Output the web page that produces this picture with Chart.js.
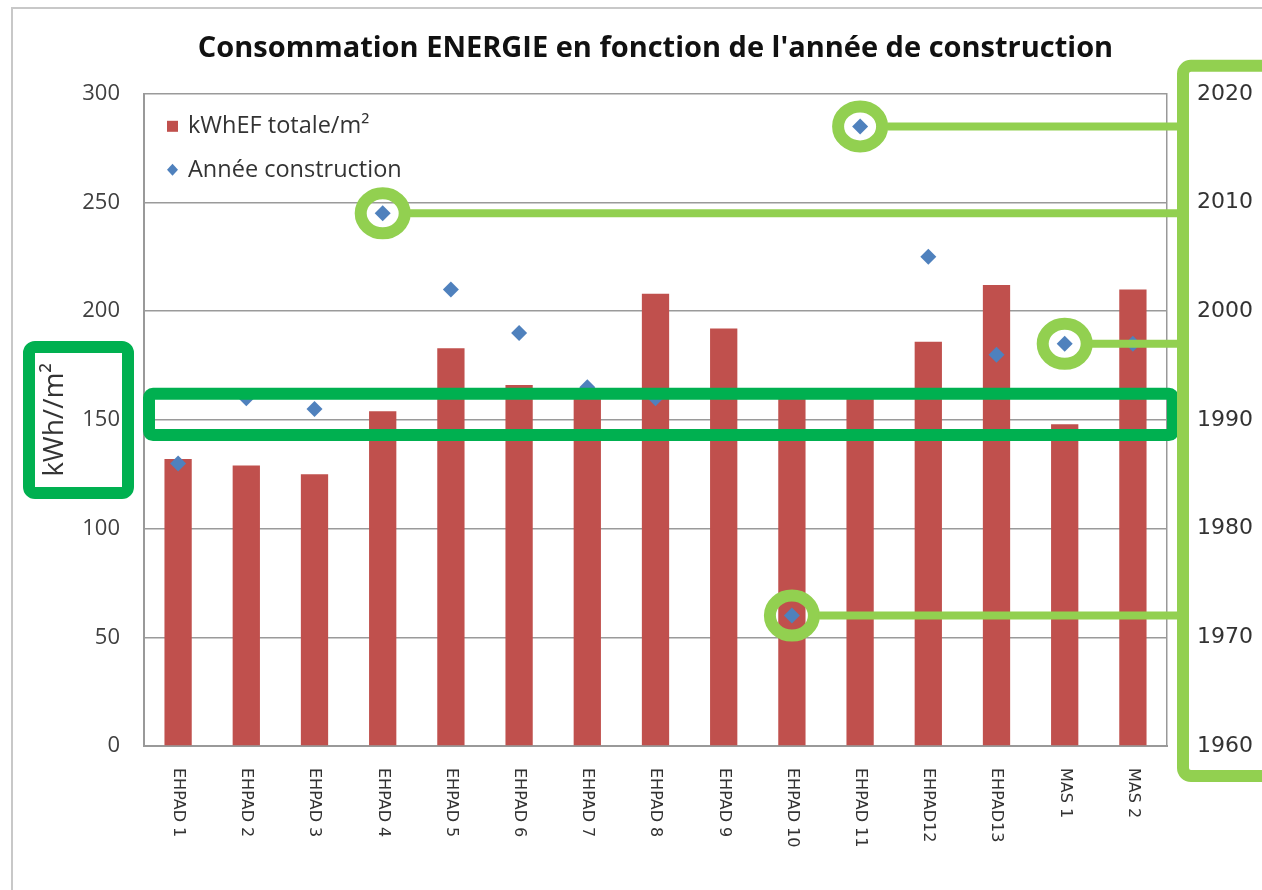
<!DOCTYPE html>
<html>
<head>
<meta charset="utf-8">
<script src="https://cdn.jsdelivr.net/npm/chart.js@4"></script>
<style>
  body { margin: 0; background: #fff; }
</style>
</head>
<body>
<canvas id="chart" width="1262" height="890"></canvas>
<script>
// Categories (buildings)
const categories = [
  "EHPAD 1", "EHPAD 2", "EHPAD 3", "EHPAD 4", "EHPAD 5", "EHPAD 6", "EHPAD 7",
  "EHPAD 8", "EHPAD 9", "EHPAD 10", "EHPAD 11", "EHPAD12", "EHPAD13", "MAS 1", "MAS 2",
];
const seriesNames = ["kWhEF totale/m²", "Année construction"];

// Energy consumption, kWh/m² (left axis)
const consumption = [132, 129, 125, 154, 183, 166, 161, 208, 192, 161, 161, 186, 212, 148, 210];

// Year of construction (right axis), EHPAD 9 has no visible point
const buildYears = [1986, 1992, 1991, 2009, 2002, 1998, 1993, 1992, null, 1972, 2017, 2005, 1996, 1997, 1997];

// Points circled in green in the picture
const highlighted = [3, 9, 10, 13];
// Left-axis range framed by the horizontal green box
const boxRange = [143, 162];

const barColor = "#C0504D";
const pointColor = "#4F81BD";

Chart.defaults.font.family = "Open Sans";

// Draws frame, legend, rotated category labels and the green markup
const annotations = {
  id: "annotations",
  beforeDraw(chart) {
    const { ctx } = chart;
    ctx.save();
    ctx.fillStyle = "#fff";
    ctx.fillRect(0, 0, chart.width, chart.height);
    ctx.strokeStyle = "#c8c8c8";
    ctx.lineWidth = 2;
    ctx.strokeRect(12, 8, chart.width + 40, chart.height + 40);
    ctx.restore();
  },
  afterDraw(chart) {
    const { ctx, chartArea: area, scales } = chart;
    const pts = chart.getDatasetMeta(1).data;
    ctx.save();

    // category labels, reading top to bottom
    ctx.font = "16px 'DejaVu Sans'";
    ctx.fillStyle = "#333";
    ctx.textAlign = "left";
    ctx.textBaseline = "middle";
    chart.data.labels.forEach((label, i) => {
      ctx.save();
      ctx.translate(scales.x.getPixelForTick(i), area.bottom + 22);
      ctx.rotate(Math.PI / 2);
      ctx.fillText(label, 0, 0);
      ctx.restore();
    });

    // legend inside the plot
    const lx = area.left + 23;
    ctx.font = "23.5px 'Open Sans'";
    ctx.fillStyle = chart.data.datasets[0].backgroundColor;
    ctx.fillRect(lx, area.top + 27, 11, 11);
    ctx.fillStyle = pointColor;
    ctx.beginPath();
    ctx.moveTo(lx + 5.5, area.top + 70);
    ctx.lineTo(lx + 11, area.top + 76);
    ctx.lineTo(lx + 5.5, area.top + 82);
    ctx.lineTo(lx, area.top + 76);
    ctx.closePath();
    ctx.fill();
    ctx.fillStyle = "#333";
    ctx.fillText(chart.data.datasets[0].label, lx + 21, area.top + 33);
    ctx.fillText(chart.data.datasets[1].label, lx + 21, area.top + 77);

    // dark green boxes
    ctx.strokeStyle = "#00B050";
    ctx.lineWidth = 12;
    ctx.lineJoin = "round";
    const top = scales.y.getPixelForValue(boxRange[1]);
    const bottom = scales.y.getPixelForValue(boxRange[0]);
    ctx.beginPath();
    ctx.roundRect(area.left + 5, top, area.right - area.left + 1, bottom - top, 4);
    ctx.stroke();
    const midY = (area.top + area.bottom) / 2;
    ctx.beginPath();
    ctx.roundRect(area.left - 115, midY - 73, 99, 146, 6);
    ctx.stroke();

    // light green frame round the right axis
    ctx.strokeStyle = "#92D050";
    const frameX = area.right + 16;
    ctx.beginPath();
    ctx.roundRect(frameX, area.top - 28, 200, area.bottom - area.top + 58, 8);
    ctx.stroke();

    // circles and connectors
    highlighted.forEach((i) => {
      const p = pts[i];
      ctx.lineWidth = 12;
      ctx.beginPath();
      ctx.ellipse(p.x, p.y, 22, 20, 0, 0, Math.PI * 2);
      ctx.stroke();
      ctx.lineWidth = 8;
      ctx.beginPath();
      ctx.moveTo(p.x + 27, p.y);
      ctx.lineTo(frameX, p.y);
      ctx.stroke();
    });
    ctx.restore();
  },
};

new Chart(document.getElementById("chart"), {
  type: "bar",
  plugins: [annotations],
  data: {
    labels: categories,
    datasets: [
      {
        type: "bar",
        label: seriesNames[0],
        data: consumption,
        backgroundColor: barColor,
        yAxisID: "y",
        order: 2,
        barPercentage: 0.8,
        categoryPercentage: 0.5,
      },
      {
        type: "line",
        label: seriesNames[1],
        data: buildYears,
        yAxisID: "y1",
        showLine: false,
        pointStyle: "rectRot",
        pointRadius: 8,
        pointBackgroundColor: pointColor,
        pointBorderColor: pointColor,
        pointBorderWidth: 0,
        order: 1,
      },
    ],
  },
  options: {
    responsive: false,
    animation: false,
    layout: { padding: 0 },
    plugins: {
      legend: { display: false },
      tooltip: { enabled: false },
      title: {
        display: true,
        fullSize: false,
        text: "Consommation ENERGIE en fonction de l'année de construction",
        color: "#111",
        font: { family: "Open Sans", size: 29, weight: "bold" },
        padding: { top: 31, bottom: 28 },
      },
    },
    scales: {
      x: {
        grid: { display: false },
        border: { color: "#999", width: 2 },
        ticks: { display: false },
        afterFit: (s) => { s.height = 144; },
      },
      y: {
        position: "left",
        min: 0,
        max: 300,
        ticks: { stepSize: 50, padding: 24, color: "#404040", font: { size: 22 } },
        grid: { color: "#9a9a9a", lineWidth: 1.5, drawTicks: false },
        border: { color: "#999", width: 2 },
        title: {
          display: true,
          text: "kWh//m²",
          color: "#333",
          font: { size: 28 },
          padding: { top: 38, bottom: 0 },
        },
        afterFit: (s) => { s.width = 144; },
      },
      y1: {
        position: "right",
        min: 1960,
        max: 2020,
        ticks: {
          stepSize: 10,
          padding: 30,
          color: "#333",
          font: { family: "DejaVu Sans", size: 22 },
          callback: (v) => String(v),
        },
        grid: { display: false, drawTicks: false },
        border: { color: "#999", width: 1.5 },
        afterFit: (s) => { s.width = 95; },
      },
    },
  },
});
</script>
</body>
</html>
